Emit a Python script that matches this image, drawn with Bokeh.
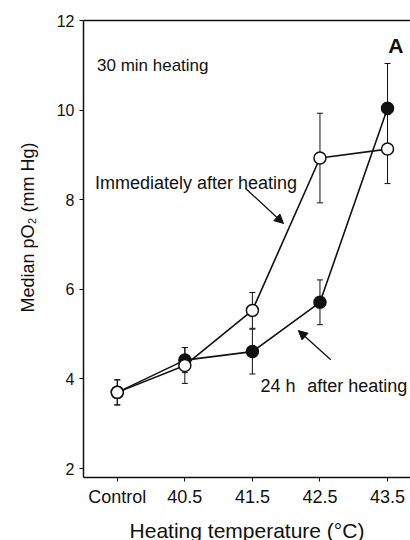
from bokeh.plotting import figure
from bokeh.models import (ColumnDataSource, Whisker, TeeHead, Arrow, NormalHead,
                          LinearAxis, Range1d, FixedTicker, Title)
from bokeh.core.properties import value
from bokeh.embed import file_html
from bokeh.resources import INLINE

# ---- data ----
categories = ["Control", "40.5", "41.5", "42.5", "43.5"]
x_pos = [0, 1, 2, 3, 4]
immediate = [3.70, 4.30, 5.53, 8.93, 9.13]
immediate_err = [0.28, 0.40, 0.40, 1.00, 0.77]
after24 = [3.70, 4.42, 4.61, 5.71, 10.04]
after24_err = [0.28, 0.28, 0.50, 0.50, 1.00]
y_ticks = [2, 4, 6, 8, 10, 12]

FONT = "Liberation Sans"
INK = "#111111"

p = figure(width=410, height=540, frame_width=327, frame_height=457,
           output_backend="svg", toolbar_location=None,
           x_range=Range1d(-0.5, 4.34), y_range=Range1d(1.8, 12.0),
           min_border_left=83, min_border_right=0, min_border_top=20,
           min_border_bottom=63, background_fill_color="white",
           border_fill_color="white")
p.outline_line_color = None
p.grid.visible = False

# error bars
def src(vals, errs):
    return ColumnDataSource(dict(x=x_pos, y=vals,
                                 lo=[v - e for v, e in zip(vals, errs)],
                                 hi=[v + e for v, e in zip(vals, errs)]))

s_after = src(after24, after24_err)
s_imm = src(immediate, immediate_err)

for s in (s_after, s_imm):
    w = Whisker(source=s, base="x", lower="lo", upper="hi", line_color=INK,
                line_width=1,
                upper_head=TeeHead(size=6, line_color=INK, line_width=1),
                lower_head=TeeHead(size=6, line_color=INK, line_width=1))
    p.add_layout(w)

p.line("x", "y", source=s_after, line_color=INK, line_width=1.6)
p.line("x", "y", source=s_imm, line_color=INK, line_width=1.6)
p.scatter("x", "y", source=s_after, size=12, fill_color=INK, line_color=INK,
          line_width=1.5)
p.scatter("x", "y", source=s_imm, size=12, fill_color="white", line_color=INK,
          line_width=1.5)

# annotations
p.text(x=[-0.30], y=[11.0], text=["30 min heating"], text_font=value(FONT),
       text_font_size="17px", text_color=INK, text_baseline="alphabetic")
p.text(x=[4.01], y=[11.44], text=["A"], text_font=value(FONT),
       text_font_size="21px", text_font_style="bold", text_color=INK,
       text_baseline="alphabetic")
p.text(x=[-0.33], y=[8.38], text=["Immediately after heating"],
       text_font=value(FONT), text_font_size="18px", text_color=INK,
       text_baseline="alphabetic")
p.text(x=[2.12, 2.81], y=[3.85, 3.85], text=["24 h", "after heating"],
       text_font=value(FONT), text_font_size="18px", text_color=INK,
       text_baseline="alphabetic")

p.add_layout(Arrow(x_start=1.90, y_start=8.25, x_end=2.46, y_end=7.47,
                   line_color=INK, line_width=1.3,
                   end=NormalHead(size=9, fill_color=INK, line_color=INK)))
p.add_layout(Arrow(x_start=3.16, y_start=4.43, x_end=2.68, y_end=5.08,
                   line_color=INK, line_width=1.3,
                   end=NormalHead(size=9, fill_color=INK, line_color=INK)))

# axes
xa = p.xaxis[0]
xa.ticker = FixedTicker(ticks=x_pos)
xa.major_label_overrides = {i: c for i, c in zip(x_pos, categories)}
xa.axis_label = "Heating temperature (°C)"
xa.axis_label_text_font = FONT
xa.axis_label_text_font_size = "21px"
xa.axis_label_text_font_style = "normal"
xa.axis_label_text_color = INK
xa.axis_label_standoff = 9
xa.major_label_text_font = FONT
xa.major_label_text_font_size = "18px"
xa.major_label_text_color = INK
xa.major_label_standoff = 5

ya = p.yaxis[0]
ya.ticker = FixedTicker(ticks=y_ticks)
ya.major_label_text_font = FONT
ya.major_label_text_font_size = "16px"
ya.major_label_text_color = INK
ya.major_label_standoff = 5

for ax in (xa, ya):
    ax.axis_line_color = INK
    ax.axis_line_width = 1.5
    ax.major_tick_line_color = INK
    ax.major_tick_out = 4
    ax.major_tick_in = 0
    ax.minor_tick_line_color = None

# y-axis title, placed in the left panel and shifted up like the original
ylab = Title(text="Median pO₂ (mm Hg)", align="left", offset=165,
             vertical_align="middle", text_font=FONT, text_font_size="18px",
             text_font_style="normal", text_color=INK, standoff=30)
p.add_layout(ylab, "left")

top = LinearAxis(ticker=FixedTicker(ticks=[]), axis_line_color=INK,
                 axis_line_width=1.5, major_tick_line_color=None,
                 minor_tick_line_color=None, major_label_text_font_size="0px")
p.add_layout(top, "above")

open("out.html", "w").write(file_html(p, INLINE))
